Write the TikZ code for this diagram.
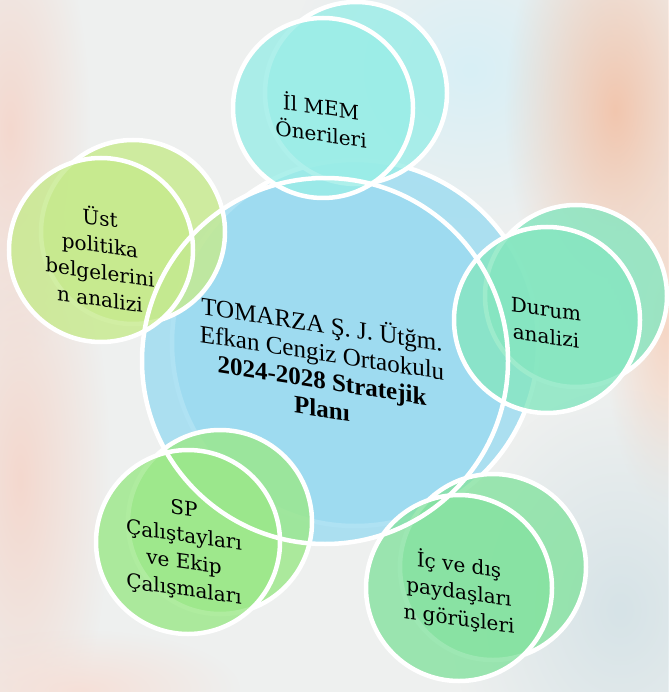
\documentclass[tikz,border=0pt]{standalone}
\usepackage{fontspec}
\setmainfont{Liberation Serif}
\newfontfamily\satfont{DejaVu Serif}
\usetikzlibrary{fadings}
\tikzfading[name=softblob, inner color=transparent!0, outer color=transparent!100]
\definecolor{bgc}{HTML}{EEF0EF}
\definecolor{orng}{HTML}{F2C6AE}
\definecolor{pinkc}{HTML}{F4D8CE}
\definecolor{bluec}{HTML}{D8EFF6}
\definecolor{grayb}{HTML}{D6E3E7}
\definecolor{ctrc}{HTML}{9BDBF1}
\definecolor{memc}{HTML}{9AEDE7}
\definecolor{ustc}{HTML}{C6EA8C}
\definecolor{durc}{HTML}{85E6C0}
\definecolor{icc}{HTML}{85E2A0}
\definecolor{spc}{HTML}{9BE888}
\begin{document}
\begin{tikzpicture}[x=1pt,y=-1pt,
  ring/.style={draw=white, line width=4.5pt},
  disc/.style={fill opacity=0.8},
  blob/.style={path fading=softblob},
  sat/.style={font=\satfont\fontsize{20}{27}\selectfont, align=center, yslant=-0.14, text=black},
  ctr/.style={font=\fontsize{25}{28}\selectfont, align=center, yslant=-0.155, text=black}]
\useasboundingbox (0,0) rectangle (668,692);
% background
\fill[bgc] (0,0) rectangle (668,692);
\fill[blob, bluec] (470,70) ellipse (180pt and 170pt);
\fill[blob, orng] (615,110) ellipse (110pt and 220pt);
\fill[blob, orng!70] (665,330) ellipse (60pt and 180pt);
\fill[blob, pinkc] (10,130) ellipse (80pt and 240pt);
\fill[blob, pinkc] (20,480) ellipse (90pt and 300pt);
\fill[blob, grayb] (620,610) ellipse (170pt and 220pt);
\fill[blob, pinkc!80] (80,690) ellipse (160pt and 60pt);
% centres of discs
\coordinate (cB) at (355,343);   \coordinate (cF) at (325,361);
\coordinate (memB) at (356,93);  \coordinate (memF) at (323,108);
\coordinate (ustB) at (133,232); \coordinate (ustF) at (101,250);
\coordinate (durB) at (576,296); \coordinate (durF) at (547,320);
\coordinate (icB) at (493,567);  \coordinate (icF) at (459,588);
\coordinate (spB) at (220,522);  \coordinate (spF) at (188,542);
% centre disc
\fill[ctrc, disc] (cB) circle (183pt);
\draw[ring] (cB) circle (183pt);
\fill[ctrc, disc] (cF) circle (183pt);
% satellites: back disc, back ring, front disc
\fill[memc, disc] (memB) circle (91pt); \draw[ring] (memB) circle (91pt); \fill[memc, disc] (memF) circle (90pt);
\fill[ustc, disc] (ustB) circle (92pt); \draw[ring] (ustB) circle (92pt); \fill[ustc, disc] (ustF) circle (92pt);
\fill[durc, disc] (durB) circle (91pt); \draw[ring] (durB) circle (91pt); \fill[durc, disc] (durF) circle (93pt);
\fill[icc, disc] (icB) circle (93pt);   \draw[ring] (icB) circle (93pt);   \fill[icc, disc] (icF) circle (93pt);
\fill[spc, disc] (spB) circle (92pt);   \draw[ring] (spB) circle (92pt);   \fill[spc, disc] (spF) circle (92pt);
% front rings
\draw[ring] (cF) circle (183pt);
\draw[ring] (memF) circle (90pt);
\draw[ring] (ustF) circle (92pt);
\draw[ring] (durF) circle (93pt);
\draw[ring] (icF) circle (93pt);
\draw[ring] (spF) circle (92pt);
% texts
\node[ctr] (ctrtext) at (322,365) {TOMARZA Ş. J. Ütğm.\\Efkan Cengiz Ortaokulu\\\textbf{2024-2028 Stratejik}\\\textbf{Planı}};
\node[sat] (memtext) at (321,119) {İl MEM\\Önerileri};
\node[sat] (usttext) at (100,257) {Üst\\politika\\belgelerini\\n analizi};
\node[sat] (durtext) at (546,323) {Durum\\analizi};
\node[sat] (ictext) at (459,592) {İç ve dış\\paydaşları\\n görüşleri};
\node[sat] (sptext) at (184,550) {SP\\Çalıştayları\\ve Ekip\\Çalışmaları};
\end{tikzpicture}
\end{document}
